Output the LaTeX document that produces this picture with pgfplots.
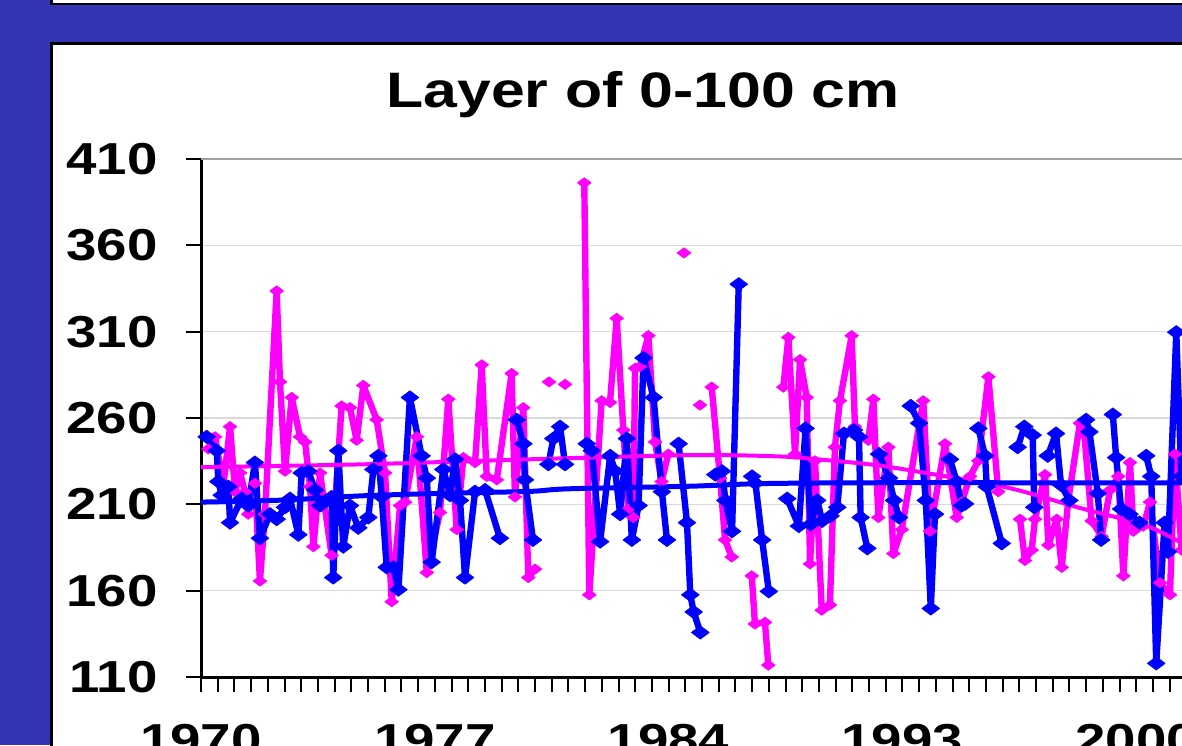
\documentclass[border=0pt]{standalone}
\usepackage{fontspec}
\setmainfont[FakeStretch=1.22]{Liberation Sans}
\usepackage{pgfplots}
\pgfplotsset{compat=1.18}
\definecolor{frameblue}{RGB}{52,52,180}
\definecolor{sermag}{RGB}{255,0,255}
\definecolor{serblue}{RGB}{0,0,255}

\begin{document}
\begin{tikzpicture}
\useasboundingbox (0,0) rectangle (591pt,-372.5pt);
\clip (0,0) rectangle (591pt,-372.5pt);
\fill[frameblue] (0,0) rectangle (591pt,-372.5pt);
\filldraw[fill=white, draw=black, line width=1.3pt] (25.7pt,10pt) rectangle (620pt,-1.9pt);
\filldraw[fill=white, draw=black, line width=1.3pt] (25.7pt,-21.6pt) rectangle (620pt,-420pt);
\node[anchor=base, font=\bfseries\fontsize{24.9}{24.9}\selectfont] at (321.5pt,-53.5pt) {Layer of 0-100 cm};

\begin{axis}[
    at={(100.5pt,-338.5pt)}, anchor=south west,
    scale only axis, width=501pt, height=259pt,
    xmin=0, xmax=60, ymin=110, ymax=410,
    axis x line*=bottom, axis y line*=left,
    axis line style={line width=1.5pt, black},
    clip=false,
    unbounded coords=jump,
    tick align=outside,
    major tick length=7.5pt,
    tick style={black, line width=1pt},
    xtick={0,...,60},
    xticklabels={1970,,,,,,,,,,,,,,1977,,,,,,,,,,,,,,1984,,,,,,,,,,,,,,1993,,,,,,,,,,,,,,2000,,,,},
    ytick={110,160,210,260,310,360},
    extra y ticks={410},
    extra y tick style={grid style={gray!75, line width=1pt}},
    ymajorgrids,
    grid style={gray!30, line width=0.75pt},
    /pgf/number format/assume math mode=true,
    yticklabel style={font=\bfseries\fontsize{22.4}{22.4}\selectfont, anchor=east, inner sep=0pt, xshift=-14pt},
    xticklabel style={font=\bfseries\fontsize{22.4}{22.4}\selectfont, anchor=north, inner sep=0pt, yshift=-16pt},
]
% magenta series
\addplot[sermag, line width=3.2pt, line join=round, mark=diamond*, mark size=3.4pt,
    mark options={rotate=90, line width=0.4pt, fill=sermag, draw=sermag}] coordinates {
(0.44,242.1)(0.84,249.1)(1.34,221.2)(1.74,255.0)(2.04,217.3)(2.34,228.2)(2.63,217.3)(2.83,204.3)(3.23,222.2)(3.53,165.6)
(3.83,204.3)(4.53,333.6)(4.73,280.9)(5.03,229.2)(5.43,271.9)(5.93,249.1)(6.23,246.1)(6.53,220.2)(6.73,185.5)(7.13,228.2)
(7.82,180.5)(8.42,267.0)(8.92,266.0)(9.32,247.1)(9.72,278.9)(10.52,259.0)(11.02,228.2)(11.42,153.6)(11.92,209.3)(12.22,211.3)
(12.92,249.1)(13.52,170.5)(14.31,205.3)(14.81,270.9)(15.31,195.4)(15.71,237.1)(16.41,234.2)(16.81,290.8)(17.11,226.2)(17.71,224.2)
(18.6,285.8)(18.8,214.3)(19.3,266.0)(19.6,167.6)(20.0,172.5)(20.5,nan)
(20.84,280.9)(21.3,nan)(21.8,279.5)(22.4,nan)
(22.95,396.2)(23.25,157.6)(23.99,270.0)(24.49,269.0)(24.89,317.7)(25.29,253.0)(25.59,207.3)(25.89,202.4)(25.99,288.8)(26.29,289.8)
(26.79,307.7)(27.19,246.1)(27.58,223.2)(27.98,239.1)(28.4,nan)
(28.92,355.6)(29.4,nan)(29.88,267.5)(30.2,nan)
(30.58,277.9)(31.08,225.2)(31.38,189.4)(31.78,179.5)(32.4,nan)
(32.98,168.6)(33.17,140.7)(33.77,141.7)(33.97,116.9)(34.4,nan)
(34.87,277.9)(35.17,306.7)(35.57,239.1)(35.87,293.8)(36.27,271.9)(36.47,175.5)(36.77,235.2)(37.17,148.7)(37.66,151.7)(37.96,243.1)
(38.26,270.0)(38.96,307.7)(39.16,255.0)(39.46,249.1)(39.96,247.1)(40.26,270.9)(40.56,202.4)(41.16,243.1)(41.46,181.5)(41.96,195.4)
(43.25,270.0)(43.65,194.4)(44.55,245.1)(45.25,202.4)(45.55,211.3)(46.05,226.2)(46.55,235.2)(47.15,283.9)(47.74,217.3)(48.4,nan)
(49.04,201.4)(49.34,177.5)(49.74,183.5)(49.94,201.4)(50.54,227.2)(50.74,186.4)(51.24,201.4)(51.54,173.5)(51.93,212.3)(52.63,257.0)
(52.83,258.0)(53.33,200.4)(53.93,191.4)(54.43,218.3)(54.93,226.2)(55.23,168.6)(55.63,234.2)(55.83,194.4)(56.43,197.4)(56.83,211.3)
(57.43,164.6)(58.02,157.6)(58.32,239.1)(58.72,183.5)
};
% blue series
\addplot[serblue, line width=3.2pt, line join=round, mark=diamond*, mark size=4.4pt,
    mark options={rotate=90, line width=0.4pt, fill=serblue, draw=serblue}] coordinates {
(0.34,249.1)(0.94,241.1)(1.04,223.2)(1.24,215.3)(1.64,220.2)(1.74,199.4)(2.44,213.3)(2.83,209.3)(3.23,234.2)(3.53,190.4)
(4.13,204.3)(4.53,201.4)(5.03,208.3)(5.33,213.3)(5.83,192.4)(6.03,228.2)(6.43,229.2)(6.83,218.3)(7.13,209.3)(7.52,212.3)
(7.82,214.3)(7.92,167.6)(8.22,241.1)(8.52,185.5)(8.92,209.3)(9.42,196.4)(10.02,202.4)(10.32,230.2)(10.62,238.1)(10.82,214.3)
(11.12,173.5)(11.52,173.5)(11.82,160.6)(12.51,271.9)(13.21,238.1)(13.52,225.2)(13.81,176.5)(14.51,230.2)(14.91,215.3)(15.21,236.1)
(15.51,212.3)(15.81,167.6)(16.41,217.3)(17.01,218.3)(17.9,190.4)(18.4,nan)
(18.9,259.0)(19.3,245.1)(19.4,224.2)(19.88,189.4)(20.3,nan)
(20.8,233.2)(21.1,248.1)(21.5,255.0)(21.8,233.2)(22.5,nan)
(23.1,245.1)(23.4,241.1)(23.9,188.4)(24.5,238.1)(24.8,229.2)(25.1,204.3)(25.5,248.1)(25.8,189.4)(26.2,209.3)(26.5,294.8)
(27.1,271.9)(27.6,217.3)(27.9,189.4)(28.3,nan)
(28.6,245.1)(29.1,199.4)(29.3,157.6)(29.5,147.7)(29.9,135.8)(30.3,nan)
(30.8,227.2)(31.2,229.2)(31.4,212.3)(31.8,194.4)(32.2,337.5)(32.6,nan)
(33.0,226.2)(33.2,222.2)(33.6,189.4)(34.0,159.6)(34.5,nan)
(35.1,213.3)(35.8,197.4)(36.2,254.0)(36.5,198.4)(36.9,212.3)(37.2,200.4)(37.7,203.3)(38.1,208.3)(38.5,251.0)(39.1,253.0)
(39.4,249.1)(39.5,202.4)(39.9,184.5)(40.2,nan)
(40.6,239.1)(41.2,225.2)(41.5,212.3)(41.8,202.4)(42.1,nan)
(42.5,267.0)(43.0,257.0)(43.4,212.3)(43.7,149.7)(43.95,204.3)(44.4,nan)
(44.85,236.1)(45.25,223.2)(45.55,209.3)(45.75,210.3)(46.1,nan)
(46.55,254.0)(46.95,238.1)(47.05,220.2)(47.95,187.4)(48.4,nan)
(48.9,243.1)(49.3,255.0)(49.8,250.1)(49.9,208.3)(50.3,nan)
(50.7,238.1)(51.2,251.0)(51.5,221.2)(52.0,212.3)(52.5,nan)
(53.0,259.0)(53.2,252.0)(53.7,216.3)(53.9,189.4)(54.2,nan)
(54.6,262.0)(54.8,237.1)(55.1,207.3)(55.6,204.3)(56.2,199.4)(56.4,nan)
(56.6,238.1)(56.9,226.2)(57.2,117.9)(57.7,199.4)(57.9,182.5)(58.4,309.7)(58.7,226.2)
};
% trend lines
\addplot[sermag, line width=2pt, smooth] coordinates {
(0,231.5)(9.8,233.2)(19.7,236.1)(29.3,238.5)(34.5,237.8)(37,236)(40.6,232.5)(44.7,226)(48.6,219)(52.6,208)(56.5,198)(58.7,188)(60,184)
};
\addplot[serblue, line width=2.5pt, smooth] coordinates {
(0,211.3)(5,212.5)(9.8,215)(15,216.5)(19.7,217.5)(22,219)(29.3,220.5)(33.5,222)(40,222.5)(50,222.5)(60,222.5)
};
\end{axis}
\end{tikzpicture}
\end{document}
